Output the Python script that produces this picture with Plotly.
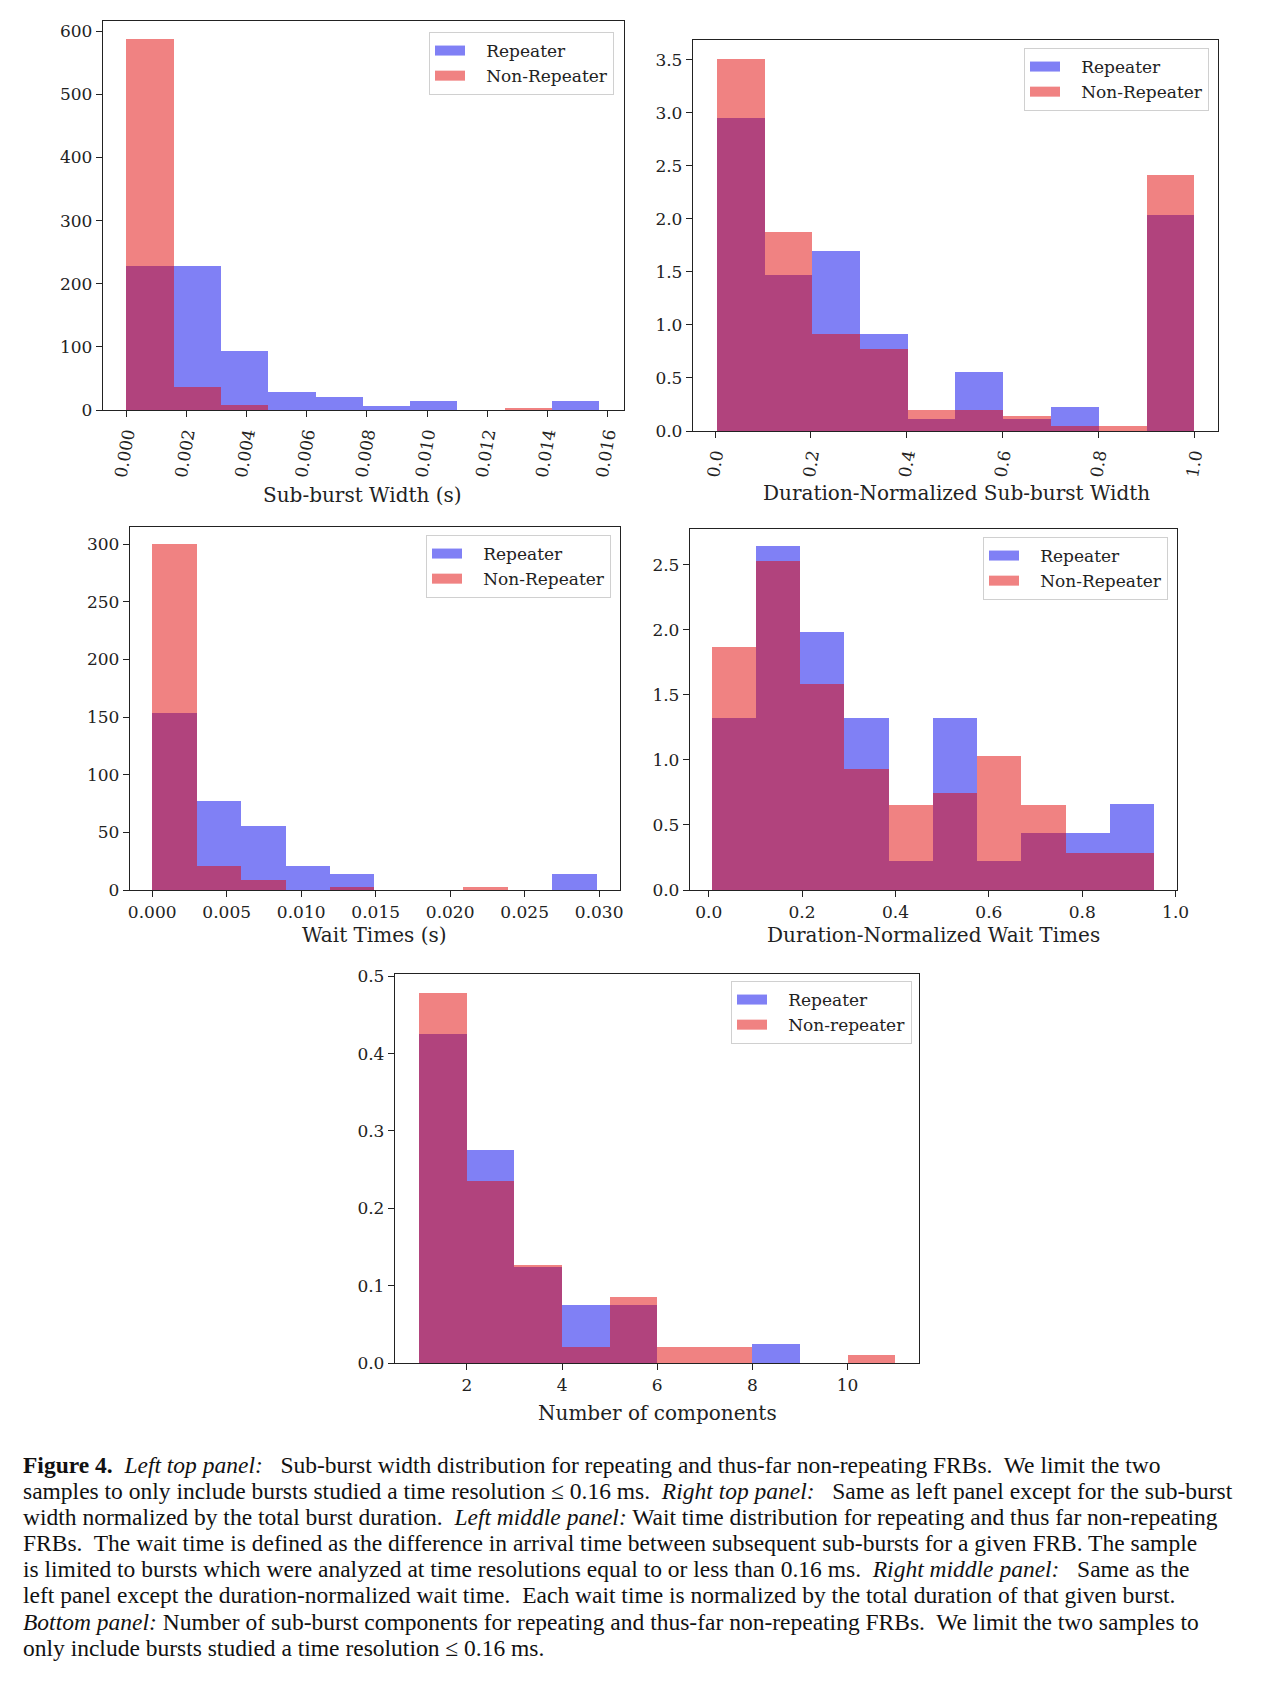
import numpy as np
import plotly.graph_objects as go

# The page body has an 8px default margin; the figure is sized so the page fits the window.
OFF = 8
W, H = 1266 - 2 * OFF, 1684 - 2 * OFF


def px(xp):
    return (xp - OFF) / W


def py(yp):
    return 1 - (yp - OFF) / H


# ---------------- data ----------------
# Panel 1: Sub-burst width (s)
p1_edges = [0.0, 0.00157, 0.00315, 0.00472, 0.00629, 0.00787, 0.00944, 0.01101, 0.01258, 0.01416, 0.01573]
p1_rep = [228, 228, 93, 28, 21, 6, 15, 0, 0, 15]
p1_non = [587, 37, 8, 0, 0, 0, 0, 0, 3, 0]

# Panel 2: Duration-normalized sub-burst width
p2_edges = [0.0042, 0.1035, 0.2027, 0.3028, 0.4020, 0.5013, 0.6014, 0.7015, 0.8007, 0.9008, 1.0]
p2_rep = [2.95, 1.47, 1.70, 0.91, 0.113, 0.56, 0.113, 0.223, 0.0, 2.04]
p2_non = [3.51, 1.88, 0.91, 0.77, 0.195, 0.195, 0.144, 0.044, 0.044, 2.41]

# Panel 3: Wait times (s)
p3_edges = [0.0, 0.00298, 0.00597, 0.00895, 0.01194, 0.01492, 0.01790, 0.02089, 0.02387, 0.02686, 0.02984]
p3_rep = [153.8, 76.9, 55.9, 20.7, 13.8, 0, 0, 0, 0, 13.8]
p3_non = [300, 20.7, 8.9, 0, 2.6, 0, 0, 2.6, 0, 0]

# Panel 4: Duration-normalized wait times
p4_edges = [0.007, 0.1017, 0.1957, 0.2904, 0.3852, 0.4800, 0.5757, 0.6696, 0.7643, 0.8591, 0.953]
p4_rep = [1.324, 2.648, 1.984, 1.324, 0.22, 1.324, 0.22, 0.44, 0.44, 0.662]
p4_non = [1.871, 2.526, 1.587, 0.933, 0.654, 0.746, 1.030, 0.654, 0.281, 0.281]

# Panel 5: Number of components
p5_edges = [1, 2, 3, 4, 5, 6, 7, 8, 9, 10, 11]
p5_rep = [0.425, 0.2755, 0.1245, 0.075, 0.075, 0, 0, 0.025, 0, 0]
p5_non = [0.479, 0.235, 0.127, 0.021, 0.085, 0.021, 0.021, 0, 0, 0.0099]

labels = [
    ("Repeater", "Non-Repeater"),
    ("Repeater", "Non-Repeater"),
    ("Repeater", "Non-Repeater"),
    ("Repeater", "Non-Repeater"),
    ("Repeater", "Non-repeater"),
]
xtitles = ["Sub-burst Width (s)", "Duration-Normalized Sub-burst Width",
           "Wait Times (s)", "Duration-Normalized Wait Times", "Number of components"]

caption_lines = [
    "<b>Figure 4.</b>  <i>Left top panel:</i>   Sub-burst width distribution for repeating and thus-far non-repeating FRBs.  We limit the two",
    "samples to only include bursts studied a time resolution \u2264 0.16 ms.  <i>Right top panel:</i>   Same as left panel except for the sub-burst",
    "width normalized by the total burst duration.  <i>Left middle panel:</i> Wait time distribution for repeating and thus far non-repeating",
    "FRBs.  The wait time is defined as the difference in arrival time between subsequent sub-bursts for a given FRB. The sample",
    "is limited to bursts which were analyzed at time resolutions equal to or less than 0.16 ms.  <i>Right middle panel:</i>   Same as the",
    "left panel except the duration-normalized wait time.  Each wait time is normalized by the total duration of that given burst.",
    "<i>Bottom panel:</i> Number of sub-burst components for repeating and thus-far non-repeating FRBs.  We limit the two samples to",
    "only include bursts studied a time resolution \u2264 0.16 ms.",
]

# ---------------- layout geometry (window pixels) ----------------
# (left, right, top, bottom)
boxes = [
    (103, 624, 21, 410),
    (693, 1218, 40, 431),
    (130, 620, 527, 890),
    (690, 1177, 529, 890),
    (395, 919, 974, 1363),
]
xranges = [[-0.00078, 0.01655], [-0.046, 1.05], [-0.00149, 0.0314], [-0.040, 1.003], [0.49, 11.5]]
yranges = [[0, 616], [0, 3.685], [0, 315], [0, 2.775], [0, 0.503]]
xdticks = [0.002, 0.2, 0.005, 0.2, 2]
xtick0 = [0, 0, 0, 0, 2]
xfmts = [".3f", ".1f", ".3f", ".1f", "d"]
xangles = [-80, -80, 0, 0, 0]
ydticks = [100, 0.5, 50, 0.5, 0.1]
yfmts = ["d", ".1f", "d", ".1f", ".1f"]
legend_pos = [(614, 32), (1209, 48), (611, 535), (1168, 537), (912, 981)]
xtitle_pos = [(363, 495), (956, 493), (374, 935), (933, 935), (657, 1413)]

BLUE = "rgba(1,1,235,0.5)"
RED = "rgba(225,5,5,0.5)"
FONT = "DejaVu Serif"
INK = "#222"
GAP = "\u00a0\u00a0\u00a0"  # spacing between legend patch and label

data = [
    (p1_edges, p1_rep, p1_non),
    (p2_edges, p2_rep, p2_non),
    (p3_edges, p3_rep, p3_non),
    (p4_edges, p4_rep, p4_non),
    (p5_edges, p5_rep, p5_non),
]

fig = go.Figure()
layout = dict(
    width=W, height=H, margin=dict(l=0, r=0, t=0, b=0),
    paper_bgcolor="white", plot_bgcolor="white",
    barmode="overlay", bargap=0,
    font=dict(family=FONT, size=17, color=INK),
    annotations=[],
)

for i, (edges, rep, non) in enumerate(data):
    k = i + 1
    sfx = "" if k == 1 else str(k)
    e = np.array(edges, dtype=float)
    centers = (e[:-1] + e[1:]) / 2
    widths = np.diff(e)
    leg = "legend" if k == 1 else f"legend{k}"
    xa, ya = f"x{sfx}", f"y{sfx}"
    fig.add_trace(go.Bar(x=centers, y=rep, width=widths, name=labels[i][0], showlegend=False,
                         marker=dict(color=BLUE, line=dict(width=0)), xaxis=xa, yaxis=ya))
    fig.add_trace(go.Bar(x=centers, y=non, width=widths, name=labels[i][1], showlegend=False,
                         marker=dict(color=RED, line=dict(width=0)), xaxis=xa, yaxis=ya))
    # legend entries drawn as wide patches (matplotlib-style)
    for name, col in ((labels[i][0], BLUE), (labels[i][1], RED)):
        fig.add_trace(go.Scatter(x=[None], y=[None], mode="lines", name=GAP + name,
                                 line=dict(color=col, width=11), xaxis=xa, yaxis=ya,
                                 legend=leg, showlegend=True, hoverinfo="skip"))

    l, r, t, b = boxes[i]
    axis_common = dict(showline=True, mirror=True, linecolor=INK, linewidth=1.3,
                       ticks="outside", ticklen=6, tickwidth=1.2, tickcolor=INK,
                       showgrid=False, zeroline=False, automargin=False,
                       tickfont=dict(family=FONT, size=17, color=INK))
    layout[f"xaxis{sfx}"] = dict(domain=[px(l), px(r)], range=xranges[i], anchor=ya,
                                 tick0=xtick0[i], dtick=xdticks[i], tickformat=xfmts[i],
                                 tickangle=xangles[i], **axis_common)
    layout[f"yaxis{sfx}"] = dict(domain=[py(b), py(t)], range=yranges[i], anchor=xa,
                                 dtick=ydticks[i], tickformat=yfmts[i], **axis_common)
    lx, ly = legend_pos[i]
    layout[leg] = dict(x=px(lx), y=py(ly), xanchor="right", yanchor="top",
                       xref="paper", yref="paper",
                       bgcolor="white", bordercolor="#d0d0d0", borderwidth=1,
                       font=dict(family=FONT, size=17, color=INK),
                       tracegroupgap=0, itemwidth=30)
    tx, ty = xtitle_pos[i]
    layout["annotations"].append(dict(text=xtitles[i], x=px(tx), y=py(ty), xref="paper", yref="paper",
                                      xanchor="center", yanchor="middle", showarrow=False,
                                      font=dict(family=FONT, size=20, color=INK)))

cap_y = [1465, 1491, 1517, 1543, 1569, 1595, 1622, 1648]
for txt, yy in zip(caption_lines, cap_y):
    layout["annotations"].append(dict(text=txt, x=px(21), y=py(yy), xref="paper", yref="paper",
                                      xanchor="left", yanchor="middle", showarrow=False, align="left",
                                      font=dict(family="Liberation Serif", size=23.5, color="#111")))

fig.update_layout(**layout)
fig.write_html("out.html")
